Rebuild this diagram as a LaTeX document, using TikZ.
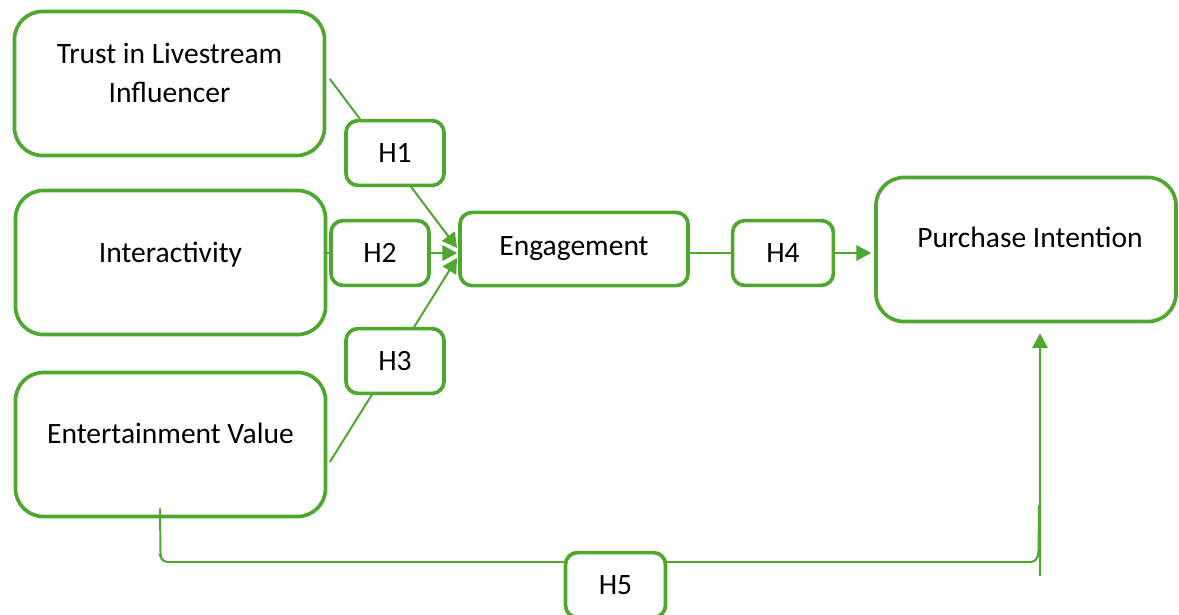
\documentclass[tikz,border=0pt]{standalone}
\usepackage{fontspec}
\setmainfont{Carlito}
\usetikzlibrary{arrows.meta, calc, positioning}
\definecolor{leaf}{HTML}{4EA72E}
\tikzset{
	bigbox/.style={
		rectangle, rounded corners=0.7cm,
		draw=leaf, line width=2.6pt, fill=white,
		minimum width=7.75cm, minimum height=3.6cm,
		inner sep=0pt
	},
	hbox/.style={
		rectangle, rounded corners=0.3cm,
		draw=leaf, line width=2.6pt, fill=white,
		minimum width=2.45cm, minimum height=1.62cm,
		inner sep=0pt, text depth=0pt
	},
	boxtext/.style={anchor=base, align=center, inner sep=0pt},
	link/.style={draw=leaf, line width=1.4pt},
	arrow/.style={link, -{Triangle[length=10.5pt,width=11pt]}},
	elbow/.style={link, rounded corners=3pt}
}

\begin{document}
\begin{tikzpicture}[x=0.025cm, y=-0.025cm, font=\fontsize{21}{27.7}\selectfont]

	\fill[white] (0,0) rectangle (1179,614);
	\useasboundingbox (0,0) rectangle (1179,614);

	%% constructs
	\node[bigbox] (trust) at (169.5,83.5) {};
	\node[bigbox] (inter) at (170.5,262.5) {};
	\node[bigbox] (enter) at (170.5,444.5) {};
	\node[bigbox, minimum width=7.5cm] (purch) at (1026,249.5) {};
	\node[hbox, minimum width=5.7cm, minimum height=1.83cm, text depth=4.3pt] (eng) at (574,249) {Engagement};

	\node[boxtext] (trust txt) at ($(trust)+(0,18.5)$) {Trust in Livestream\\Influencer};
	\node[boxtext] (inter txt) at ($(inter)+(0,-0.5)$) {Interactivity};
	\node[boxtext] (enter txt) at ($(enter)+(0,-1.5)$) {Entertainment Value};
	\node[boxtext] (purch txt) at ($(purch)+(4,-2.5)$) {Purchase Intention};

	%% paths
	\draw[arrow] ($(trust.east)+(3.5,-4.5)$) -- ($(eng.west)+(-1,-1)$);
	\draw[arrow] ($(inter.east)+(0,-9.5)$) -- ($(eng.west)+(-1,4)$);
	\draw[arrow] ($(enter.east)+(2.5,17.5)$) -- ($(eng.west)+(-1,9)$);
	\draw[arrow] ($(eng.east)+(0,4)$) -- ($(purch.west)+(-3,3.5)$);

	\coordinate (h5 top)  at (1039,505);
	\coordinate (h5 foot) at (1040,576);
	\draw[elbow] ($(enter.south)+(-10.5,-10)$) -- ++(0.5,48) -- (163,562)
		-- (1035,562) -- (1038.5,555) -- (h5 top);
	\draw[arrow] (h5 foot) -- ($(purch.south)+(14,10)$);

	%% hypotheses
	\node[hbox] (h1) at (395,153) {H1};
	\node[hbox] (h2) at (380,253) {H2};
	\node[hbox] (h3) at (395,361) {H3};
	\node[hbox, minimum width=2.52cm] (h4) at (783,253) {H4};
	\node[hbox, minimum width=2.5cm] (h5) at (615.5,585) {H5};

\end{tikzpicture}
\end{document}
